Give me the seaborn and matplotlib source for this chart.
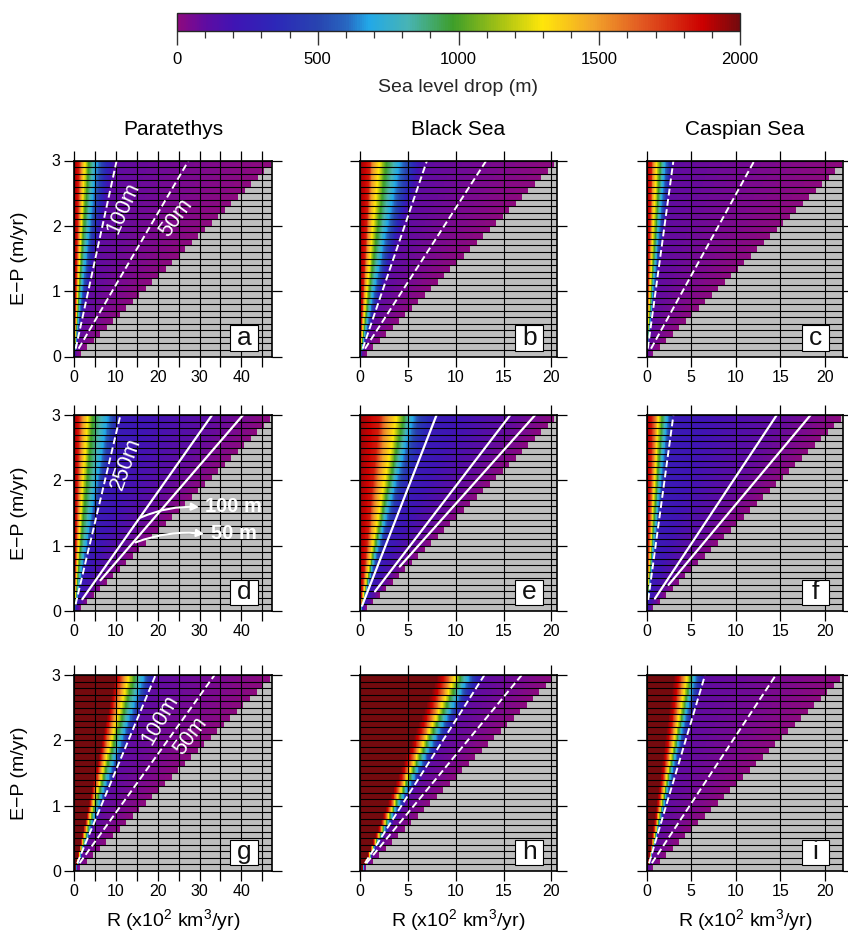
import numpy as np
import pandas as pd
import matplotlib
matplotlib.use("Agg")
import matplotlib.pyplot as plt
import seaborn as sns
from matplotlib.colors import LinearSegmentedColormap, Normalize
from matplotlib.patches import Rectangle
from matplotlib.cm import ScalarMappable
from matplotlib.ticker import MultipleLocator

# ---------------------------------------------------------------- data
basins = ["Paratethys", "Black Sea", "Caspian Sea"]
panel_letters = ["a", "b", "c", "d", "e", "f", "g", "h", "i"]

# E-P rows (m/yr), upper edge of each row of the model grid
ep_rows = np.round(np.arange(1, 31) * 0.1, 1)
# R axis extent (x10^2 km^3/yr) and grid step per basin column
r_max = [47.25, 20.55, 22.0]
r_step = [0.125, 0.05, 0.05]
r_ticks = [[0, 5, 10, 15, 20, 25, 30, 35, 40, 45], [0, 5, 10, 15, 20], [0, 5, 10, 15, 20]]
r_ticklabels = [["0", "", "10", "", "20", "", "30", "", "40", ""],
                ["0", "5", "10", "15", "20"],
                ["0", "5", "10", "15", "20"]]
ep_ticks = [0, 1, 2, 3]

# Sea level drop (m) read along the top row (E-P = 3 m/yr) of each panel;
# the last R value is where the lake stops shrinking (grey beyond)
a_r = [0, 1.2, 1.8, 2.6, 3.4, 5.4, 7.0, 9.0, 10.2, 27.4, 47.0]
a_drop = [1950, 1800, 1550, 1300, 1000, 680, 450, 200, 100, 50, 5]
b_r = [0, 1.0, 1.3, 2.0, 2.7, 4.1, 5.2, 6.2, 7.0, 13.2, 20.3]
b_drop = [1950, 1800, 1550, 1300, 1000, 680, 450, 200, 100, 50, 5]
c_r = [0, 0.55, 0.75, 1.1, 1.5, 2.05, 2.5, 2.8, 3.0, 12.1, 21.9]
c_drop = [1950, 1800, 1550, 1300, 1000, 680, 450, 200, 100, 50, 5]
d_r = [0, 1.2, 2.0, 3.2, 4.4, 8.0, 10.0, 11.1, 33.0, 40.4, 46.9]
d_drop = [1950, 1800, 1550, 1300, 1000, 680, 400, 250, 100, 50, 5]
e_r = [0, 2.0, 2.7, 3.8, 4.5, 5.5, 6.4, 8.0, 15.7, 18.3, 20.3]
e_drop = [1950, 1800, 1550, 1300, 1000, 680, 450, 250, 100, 50, 5]
f_r = [0, 0.6, 1.0, 1.3, 1.7, 2.3, 2.8, 3.0, 14.6, 18.4, 21.8]
f_drop = [1950, 1800, 1550, 1300, 1000, 680, 400, 250, 100, 50, 5]
g_r = [0, 9.8, 10.6, 11.8, 13.0, 14.2, 16.5, 18.1, 19.5, 33.6, 46.7]
g_drop = [2600, 2000, 1850, 1550, 1300, 1000, 680, 400, 100, 50, 5]
h_r = [0, 8.0, 8.7, 9.4, 9.9, 10.4, 11.3, 12.0, 13.0, 16.9, 20.1]
h_drop = [2600, 2000, 1850, 1550, 1300, 1000, 680, 400, 100, 50, 5]
i_r = [0, 3.0, 3.6, 4.1, 4.5, 4.9, 5.4, 6.0, 6.55, 14.5, 21.7]
i_drop = [2600, 2000, 1850, 1550, 1300, 1000, 680, 400, 100, 50, 5]

profiles_r = [a_r, b_r, c_r, d_r, e_r, f_r, g_r, h_r, i_r]
profiles_drop = [a_drop, b_drop, c_drop, d_drop, e_drop, f_drop, g_drop, h_drop, i_drop]

# contour levels drawn in each panel (m)
a_levels = [100, 50]
b_levels = [100, 50]
c_levels = [100, 50]
d_levels = [250, 100, 50]
e_levels = [250, 100, 50]
f_levels = [250, 100, 50]
g_levels = [100, 50]
h_levels = [100, 50]
i_levels = [100, 50]
levels = [a_levels, b_levels, c_levels, d_levels, e_levels, f_levels, g_levels, h_levels, i_levels]

# ---------------------------------------------------------------- styles
line_dashed = [[True, True], [True, True], [True, True],
               [True, False, False], [False, False, False], [True, False, False],
               [True, True], [True, True], [True, True]]
line_start = [[0.12, 0.12], [0.12, 0.12], [0.12, 0.12],
              [0.10, 0.18, 0.47], [0.08, 0.30, 0.68], [0.17, 0.19, 0.40],
              [0.12, 0.12], [0.12, 0.12], [0.12, 0.12]]
# (text, R, E-P, rotation)
contour_text = {0: [("100m", 11.8, 2.27, 66), ("50m", 24.5, 2.12, 54)],
                3: [("250m", 12.3, 2.26, 70)],
                6: [("100m", 20.5, 2.31, 60), ("50m", 27.7, 2.06, 53)]}

GRAY = "#BEBEBE"
cmap = LinearSegmentedColormap.from_list("sealevel", [
    (0 / 2000, "#8E0A7E"), (50 / 2000, "#760A92"), (100 / 2000, "#5E0CA2"),
    (200 / 2000, "#4014B4"), (350 / 2000, "#2C28B8"), (500 / 2000, "#2844B0"),
    (600 / 2000, "#2866C0"), (680 / 2000, "#22A8E8"), (820 / 2000, "#48B4B4"),
    (980 / 2000, "#3E9E2A"), (1150 / 2000, "#A6C214"), (1300 / 2000, "#FFE60A"),
    (1480 / 2000, "#F2A42A"), (1650 / 2000, "#E25A22"), (1870 / 2000, "#CC0000"),
    (2000 / 2000, "#740A0E")])
cmap.set_bad(alpha=0)

sns.set_theme(style="ticks")
plt.rcParams["font.family"] = ["Liberation Sans", "DejaVu Sans"]
plt.rcParams["mathtext.fontset"] = "custom"
plt.rcParams["mathtext.rm"] = "Liberation Sans"
plt.rcParams["mathtext.it"] = "Liberation Sans"

fig = plt.figure(figsize=(8.48, 9.43), dpi=100)
W, H = 848.0, 943.0
col_left = [74 / W, 360 / W, 646.7 / W]
col_w = [197.7 / W, 196.7 / W, 196.0 / W]
row_bottom = [1 - 356.5 / H, 1 - 611 / H, 1 - 871 / H]
row_h = 196 / H

for row in range(3):
    for col in range(3):
        k = row * 3 + col
        step = r_step[col]
        r_centers = np.arange(step / 2, r_max[col], step)
        R, EP = np.meshgrid(r_centers, ep_rows)
        pr = np.array(profiles_r[k], dtype=float)
        pdrp = np.array(profiles_drop[k], dtype=float)
        r_top = R * 3.0 / EP
        Z = np.interp(r_top, pr, pdrp)
        Z[r_top > pr[-1]] = np.nan
        df = pd.DataFrame(Z, index=ep_rows, columns=np.round(r_centers, 4))

        ax = fig.add_axes([col_left[col], row_bottom[row], col_w[col], row_h])
        sns.heatmap(df, ax=ax, cmap=cmap, vmin=0, vmax=2000, cbar=False,
                    xticklabels=False, yticklabels=False, mask=df.isna())
        ax.invert_yaxis()
        ax.set_facecolor(GRAY)
        ncols = df.shape[1]
        sx = 1.0 / step
        sy = 10.0
        ax.set_xlim(0, ncols)
        ax.set_ylim(0, 30)

        # grid: every model row and every 5 units in R
        ax.hlines(np.arange(31), 0, ncols, colors="black", lw=0.8, zorder=3)
        xt = np.array(r_ticks[col]) * sx
        ax.vlines(xt, 0, 30, colors="black", lw=0.8, zorder=3)

        # contour lines (lines of constant R/(E-P))
        for j, lev in enumerate(levels[k]):
            r_at_top = np.interp(lev, pdrp[::-1], pr[::-1])
            ys = np.array([line_start[k][j], 3.0])
            xs = r_at_top * ys / 3.0
            if line_dashed[k][j]:
                ax.plot(xs * sx, ys * sy, color="white", lw=1.4, dashes=(3.5, 1.8), zorder=4,
                        solid_capstyle="butt")
            else:
                ax.plot(xs * sx, ys * sy, color="white", lw=1.6, zorder=4)

        for (txt, rx, ey, rot) in contour_text.get(k, []):
            ax.text(rx * sx, ey * sy, txt, color="white", fontsize=15.5, rotation=rot,
                    rotation_mode="anchor", ha="center", va="center", zorder=5)

        if k == 3:
            ax.text(31.2 * sx, 1.60 * sy, "100 m", color="white", fontsize=14.5,
                    fontweight="bold", ha="left", va="center", zorder=5)
            ax.text(32.8 * sx, 1.19 * sy, "50 m", color="white", fontsize=14.5,
                    fontweight="bold", ha="left", va="center", zorder=5)
            ax.annotate("", xy=(29.9 * sx, 1.59 * sy), xytext=(15.9 * sx, 1.43 * sy),
                        arrowprops=dict(arrowstyle="-|>", color="white", lw=1.5,
                                        mutation_scale=11, shrinkA=0, shrinkB=0,
                                        connectionstyle="arc3,rad=-0.12"), zorder=5)
            ax.annotate("", xy=(31.1 * sx, 1.18 * sy), xytext=(14.7 * sx, 1.05 * sy),
                        arrowprops=dict(arrowstyle="-|>", color="white", lw=1.5,
                                        mutation_scale=11, shrinkA=0, shrinkB=0,
                                        connectionstyle="arc3,rad=-0.12"), zorder=5)

        # panel letter box
        bx, by, bw, bh = 0.79, 0.03, 0.142, 0.13
        ax.add_patch(Rectangle((bx, by), bw, bh, transform=ax.transAxes, fc="white",
                               ec="black", lw=0.8, zorder=6))
        ax.text(bx + bw / 2, by + bh / 2, panel_letters[k], transform=ax.transAxes,
                ha="center", va="center", fontsize=19, color="#111111", zorder=7)

        # ticks and frame
        ax.set_xticks(xt)
        ax.set_xticklabels(r_ticklabels[col])
        ax.set_yticks(np.array(ep_ticks) * sy)
        if col == 0:
            ax.set_yticklabels([str(v) for v in ep_ticks])
        else:
            ax.set_yticklabels([])
        ax.tick_params(axis="both", which="major", direction="out", length=7, width=0.9,
                       color="black", top=True, right=True, bottom=True, left=True,
                       labeltop=False, labelright=False, labelsize=11.5, pad=2.5,
                       labelcolor="black")
        ax.tick_params(axis="x", labelrotation=0)
        ax.tick_params(axis="y", labelrotation=0)
        for s in ax.spines.values():
            s.set_visible(True)
            s.set_color("black")
            s.set_linewidth(1.2)
            s.set_zorder(8)

        if row == 0:
            ax.text(0.5, 1.156, basins[col], transform=ax.transAxes, ha="center",
                    va="center", fontsize=15, color="black")
        if col == 0:
            ax.text(-0.275, 0.5, "E\u2212P (m/yr)", transform=ax.transAxes, rotation=90,
                    ha="center", va="center", fontsize=14, color="black")
        if row == 2:
            ax.text(0.5, -0.25, r"R (x10$^{2}$ km$^{3}$/yr)", transform=ax.transAxes,
                    ha="center", va="center", fontsize=14, color="black")

# colour bar
cax = fig.add_axes([177 / W, 1 - 30.7 / H, 563 / W, 18 / H])
cb = fig.colorbar(ScalarMappable(norm=Normalize(0, 2000), cmap=cmap), cax=cax,
                  orientation="horizontal")
cb.set_ticks([0, 500, 1000, 1500, 2000])
cb.ax.xaxis.set_minor_locator(MultipleLocator(100))
cb.ax.tick_params(which="major", direction="out", length=10, width=1.0, labelsize=12,
                  pad=5, color="#333333", labelcolor="black")
cb.ax.tick_params(which="minor", direction="out", length=5, width=0.9, color="#333333")
cb.outline.set_linewidth(1.0)
fig.text(458.5 / W, 1 - 87 / H, "Sea level drop (m)", ha="center", va="center", fontsize=14)

fig.savefig("out.png", dpi=100)
